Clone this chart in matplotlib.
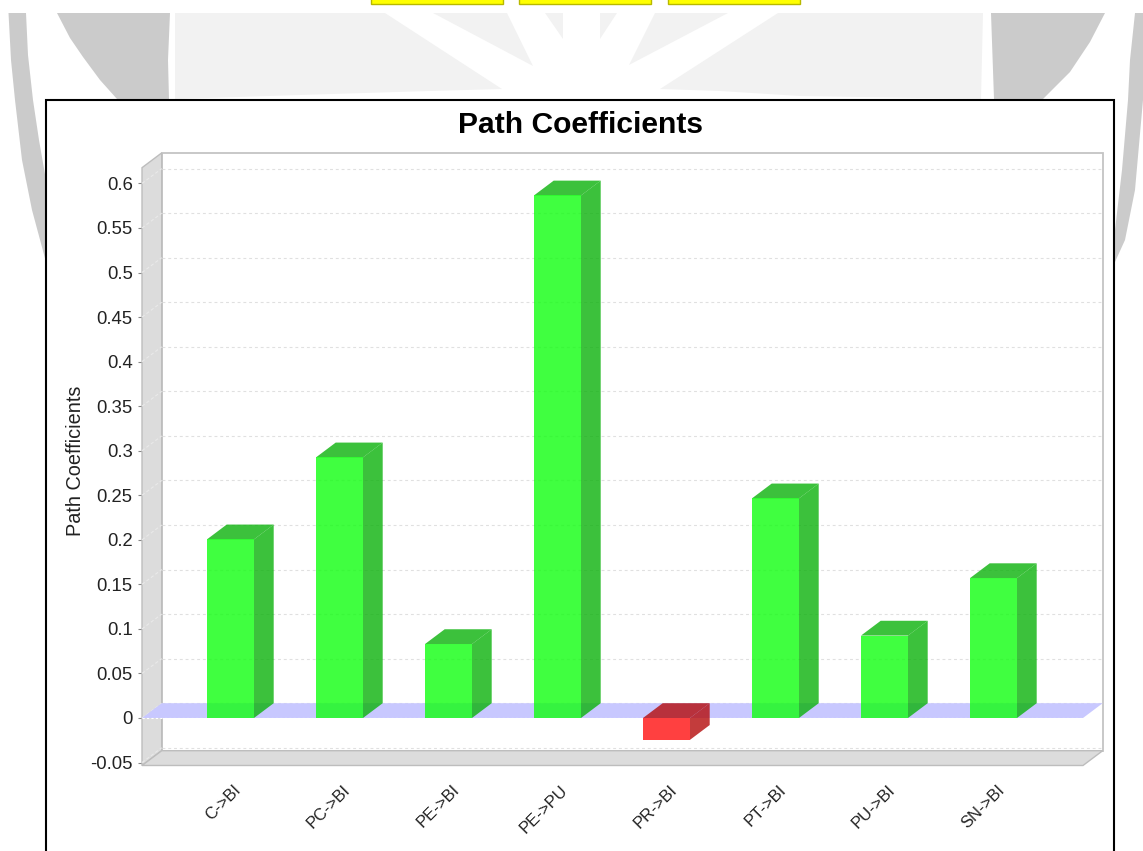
import matplotlib
matplotlib.use("Agg")
import matplotlib.pyplot as plt
from matplotlib.patches import Polygon, Rectangle
from matplotlib.transforms import ScaledTranslation
import numpy as np

plt.rcParams['font.family'] = ['Liberation Sans', 'DejaVu Sans']

categories = ["C->BI", "PC->BI", "PE->BI", "PE->PU", "PR->BI", "PT->BI", "PU->BI", "SN->BI"]
path_coefficients = [0.2005, 0.2925, 0.083, 0.5865, -0.0245, 0.2465, 0.0925, 0.157]
y_ticks = [-0.05, 0, 0.05, 0.1, 0.15, 0.2, 0.25, 0.3, 0.35, 0.4, 0.45, 0.5, 0.55, 0.6]
y_tick_labels = ["-0.05", "0", "0.05", "0.1", "0.15", "0.2", "0.25", "0.3", "0.35", "0.4", "0.45", "0.5", "0.55", "0.6"]

W, H = 1143, 851
fig = plt.figure(figsize=(W / 100, H / 100), dpi=100, facecolor="white")

# page background: watermark, buttons and chart frame, in pixel coordinates
bg = fig.add_axes([0, 0, 1, 1], zorder=0)
bg.set_xlim(0, W)
bg.set_ylim(H, 0)
bg.axis("off")
DARK = "#cbcbcb"
LIGHT = "#f2f2f2"
dark_shapes = [
    [(8.5, 13), (11, 60), (15, 100), (22, 160), (32, 210), (46, 262), (46, 180), (39, 140), (33, 100), (28, 55), (26, 13)],
    [(57, 13), (70, 38), (83, 57), (100, 80), (117, 99), (169, 99), (168, 60), (170, 13)],
    [(991, 13), (994, 99), (1043, 99), (1070, 72), (1090, 42), (1105, 13)],
    [(1135, 13), (1130, 60), (1128, 100), (1122, 170), (1115, 230), (1115, 262), (1125, 240), (1135, 190), (1143, 100), (1143, 13)],
]
light_shapes = [
    [(175, 13), (385, 13), (502, 89), (430, 91), (300, 95), (175, 99)],
    [(433, 13), (507, 13), (533, 66)],
    [(545, 13), (563, 13), (563, 39)],
    [(600, 13), (617, 13), (600, 39)],
    [(655, 13), (728, 13), (629, 65)],
    [(778, 13), (983, 13), (981, 99), (800, 96), (720, 91), (660, 89)],
]
for pts in dark_shapes:
    bg.add_patch(Polygon(pts, closed=True, fc=DARK, ec="none"))
for pts in light_shapes:
    bg.add_patch(Polygon(pts, closed=True, fc=LIGHT, ec="none"))
for x0, x1 in [(371, 503), (519, 651), (668, 800)]:
    bg.add_patch(Rectangle((x0, -3), x1 - x0, 6.5, fc="#ffff00", ec="#b8b800", lw=1))
bg.add_patch(Rectangle((46, 99.5), 1068, 760, fc="white", ec="none"))
bg.plot([46, 46, 1114, 1114], [851, 99.5, 99.5, 851], color="black", lw=1.5, solid_joinstyle="miter")

# plot frame
PX_L, PX_R, PX_T, PX_B = 142, 1083, 167.7, 765.5
ax = fig.add_axes([PX_L / W, 1 - PX_B / H, (PX_R - PX_L) / W, (PX_B - PX_T) / H], zorder=1)
PX_PER_CAT, PX_PER_VAL = 109.0, 891.0
ZERO_PX, FIRST_PX = 718.0, 230.5
ax.set_xlim((PX_L - FIRST_PX) / PX_PER_CAT, (PX_R - FIRST_PX) / PX_PER_CAT)
ax.set_ylim((ZERO_PX - PX_B) / PX_PER_VAL, (ZERO_PX - PX_T) / PX_PER_VAL)
ax.patch.set_visible(False)
for s in ax.spines.values():
    s.set_visible(False)

dx, dy = 19.7 / PX_PER_CAT, 14.8 / PX_PER_VAL
x0, x1 = ax.get_xlim()
y0, y1 = ax.get_ylim()


def poly(pts, **kw):
    ax.add_patch(Polygon(pts, closed=True, clip_on=False, **kw))


# back wall, left wall, floor
poly([(x0 + dx, y0 + dy), (x1 + dx, y0 + dy), (x1 + dx, y1 + dy), (x0 + dx, y1 + dy)],
     fc="white", ec="#c4c4c4", lw=1.3, zorder=1)
poly([(x0, y0), (x0 + dx, y0 + dy), (x0 + dx, y1 + dy), (x0, y1)], fc="#dcdcdc", ec="#bdbdbd", lw=1, zorder=2)
poly([(x0, y0), (x1, y0), (x1 + dx, y0 + dy), (x0 + dx, y0 + dy)], fc="#dcdcdc", ec="#bdbdbd", lw=1, zorder=2)

# gridlines on the back wall and their traces on the left wall
for v in y_ticks:
    ax.plot([x0 + dx, x1 + dx], [v + dy, v + dy], color="#e0e0e0", lw=0.8, ls=(0, (2.6, 2.6)), zorder=3, clip_on=False)
    ax.plot([x0, x0 + dx], [v, v + dy], color="#e9e9e9", lw=0.8, ls=(0, (3, 2)), zorder=3, clip_on=False)

# zero plane
poly([(x0, 0), (x1, 0), (x1 + dx, dy), (x0 + dx, dy)], fc="#c8c8ff", ec="none", zorder=4)
ax.plot([x0, x1], [0, 0], color="white", lw=0.8, ls=(0, (2, 2)), zorder=4.5, clip_on=False)

# bars
BAR_W = 47 / PX_PER_CAT
xs = np.arange(len(categories))
front = ["#10ff10" if v >= 0 else "#ff1010" for v in path_coefficients]
shade = ["#0bb20b" if v >= 0 else "#b40b0b" for v in path_coefficients]
ax.bar(xs, path_coefficients, width=BAR_W, color=front, alpha=0.8, zorder=7, linewidth=0)
for x, v, c in zip(xs, path_coefficients, shade):
    l, r = x - BAR_W / 2, x + BAR_W / 2
    hi, lo = max(v, 0), min(v, 0)
    poly([(l, hi), (r, hi), (r + dx, hi + dy), (l + dx, hi + dy)], fc=c, ec="none", alpha=0.8, zorder=6)
    poly([(r, lo), (r + dx, lo + dy), (r + dx, hi + dy), (r, hi)], fc=c, ec="none", alpha=0.8, zorder=6)

# axes text
ax.set_yticks(y_ticks)
ax.set_yticklabels(y_tick_labels, fontsize=13.3, color="#222222")
ax.tick_params(axis="y", length=3.2, width=0.8, color="#888888", pad=3.5)
ax.set_xticks(xs)
ax.set_xticklabels(categories, rotation=45, ha="right", rotation_mode="anchor", fontsize=12, color="#222222")
ax.tick_params(axis="x", length=0, pad=12)
shift = ScaledTranslation(3 / 100, 0, fig.dpi_scale_trans)
for lab in ax.get_xticklabels():
    lab.set_transform(lab.get_transform() + shift)
ax.set_ylabel("Path Coefficients", fontsize=14.3, color="#222222")
ax.yaxis.set_label_coords((85 - PX_L) / (PX_R - PX_L), (PX_B - 461) / (PX_B - PX_T))
fig.text(580.5 / W, 1 - 125 / H, "Path Coefficients", fontsize=21.6, fontweight="bold",
         ha="center", va="center", color="black", zorder=5)

fig.savefig("out.png", dpi=100)
